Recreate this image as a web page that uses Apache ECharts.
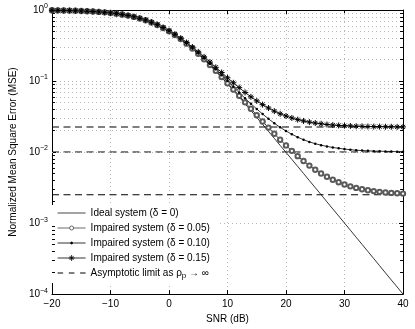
<!DOCTYPE html>
<html>
<head>
<meta charset="utf-8">
<script src="https://cdn.jsdelivr.net/npm/echarts@6/dist/echarts.min.js"></script>
<style>
  html, body { margin: 0; padding: 0; background: #fff; }
  #chart { width: 415px; height: 329px; }
</style>
</head>
<body>
<div id="chart"></div>
<script>
// SNR in dB, one point per dB
const snrDb = [-20, -19, -18, -17, -16, -15, -14, -13, -12, -11,
  -10, -9, -8, -7, -6, -5, -4, -3, -2, -1,
  0, 1, 2, 3, 4, 5, 6, 7, 8, 9,
  10, 11, 12, 13, 14, 15, 16, 17, 18, 19,
  20, 21, 22, 23, 24, 25, 26, 27, 28, 29,
  30, 31, 32, 33, 34, 35, 36, 37, 38, 39, 40]

const mseIdeal = [0.990, 0.988, 0.984, 0.980, 0.975, 0.969, 0.962, 0.952, 0.941, 0.926,
  0.909, 0.888, 0.863, 0.834, 0.799, 0.760, 0.715, 0.666, 0.613, 0.557,
  0.500, 0.443, 0.387, 0.334, 0.285, 0.240, 0.201, 0.166, 0.137, 0.112,
  0.0909, 0.0736, 0.0594, 0.0477, 0.0383, 0.0307, 0.0245, 0.0196, 0.0156, 0.0124,
  0.00990, 0.00788, 0.00627, 0.00499, 0.00396, 0.00315, 0.00251, 0.00199, 0.00158, 0.00126,
  0.000999, 0.000794, 0.000631, 0.000501, 0.000398, 0.000316, 0.000251, 0.000199, 0.000158, 0.000126,
  0.000100]

const mseDelta05 = [0.990, 0.988, 0.984, 0.980, 0.975, 0.969, 0.962, 0.952, 0.941, 0.926,
  0.909, 0.888, 0.863, 0.834, 0.800, 0.761, 0.716, 0.667, 0.614, 0.558,
  0.501, 0.444, 0.389, 0.336, 0.287, 0.242, 0.203, 0.168, 0.139, 0.114,
  0.0932, 0.0759, 0.0618, 0.0501, 0.0407, 0.0331, 0.0269, 0.0221, 0.0181, 0.0149,
  0.0124, 0.0104, 0.00875, 0.00748, 0.00645, 0.00564, 0.00500, 0.00449, 0.00408, 0.00376,
  0.00350, 0.00329, 0.00313, 0.00300, 0.00290, 0.00282, 0.00275, 0.00270, 0.00266, 0.00263,
  0.00260]

const mseDelta10 = [0.990, 0.988, 0.984, 0.980, 0.975, 0.969, 0.962, 0.952, 0.942, 0.927,
  0.910, 0.889, 0.864, 0.836, 0.801, 0.762, 0.718, 0.669, 0.617, 0.561,
  0.505, 0.449, 0.393, 0.341, 0.292, 0.248, 0.209, 0.174, 0.146, 0.121,
  0.100, 0.0829, 0.0688, 0.0572, 0.0479, 0.0404, 0.0343, 0.0294, 0.0254, 0.0223,
  0.0198, 0.0178, 0.0162, 0.0149, 0.0139, 0.0131, 0.0125, 0.0120, 0.0116, 0.0113,
  0.0110, 0.0108, 0.0106, 0.0105, 0.0104, 0.0103, 0.0103, 0.0102, 0.0102, 0.0101,
  0.0101]

const mseDelta15 = [0.990, 0.988, 0.984, 0.980, 0.976, 0.970, 0.963, 0.953, 0.942, 0.928,
  0.911, 0.891, 0.866, 0.838, 0.804, 0.765, 0.721, 0.674, 0.622, 0.567,
  0.511, 0.456, 0.401, 0.349, 0.301, 0.257, 0.219, 0.185, 0.156, 0.132,
  0.111, 0.0944, 0.0806, 0.0691, 0.0599, 0.0525, 0.0465, 0.0417, 0.0377, 0.0346,
  0.0322, 0.0302, 0.0286, 0.0274, 0.0264, 0.0256, 0.0250, 0.0244, 0.0240, 0.0237,
  0.0235, 0.0233, 0.0231, 0.0230, 0.0229, 0.0228, 0.0228, 0.0227, 0.0227, 0.0226,
  0.0226]

// asymptotic floors (delta^2)
const asymptotes = [0.0225, 0.01, 0.0025]

const seriesNames = [
  'Ideal system (δ = 0)',
  'Impaired system (δ = 0.05)',
  'Impaired system (δ = 0.10)',
  'Impaired system (δ = 0.15)',
  'Asymptotic limit as ρp → ∞'
]

// minor log gridlines 2..9 x 10^k
const decades = [1e-4, 1e-3, 1e-2, 1e-1]
const minorMults = [2, 3, 4, 5, 6, 7, 8, 9]

const FONT = '"Liberation Sans", Arial, Helvetica, sans-serif'
const GRID_COLOR = '#b8b8b8'

const pairs = vals => snrDb.map((x, i) => [x, vals[i]])

const minorVals = []
decades.forEach(d => minorMults.forEach(m => minorVals.push(+(d * m).toPrecision(3))))

const minorGrid = minorVals.map(v => ({ yAxis: v }))
const minorTicks = []
minorVals.forEach(v => {
  minorTicks.push([{ coord: [-20, v] }, { coord: [-19.5, v] }])
  minorTicks.push([{ coord: [39.5, v] }, { coord: [40, v] }])
})

const supMinus = s => s.replace('-', '−')

// legend icons, drawn in a 28x8 box (corner points keep the box size)
const BOX = 'M0,0L0,0M28,8L28,8'
const iconIdeal = 'path://' + BOX + 'M0,4L28,4'
const iconCircle = 'path://' + BOX + 'M0,4L12,4M16,4L28,4M16,4A2,2,0,1,1,12,4A2,2,0,1,1,16,4'
const iconDot = 'path://' + BOX + 'M0,4L28,4M15,4A1,1,0,1,1,13,4A1,1,0,1,1,15,4'
const iconStar = 'path://' + BOX + 'M0,4L28,4M14,1L14,7M11,4L17,4M11.9,1.9L16.1,6.1M16.1,1.9L11.9,6.1'
const iconDash = 'path://' + BOX + 'M0,4L5.5,4M11.2,4L16.8,4M22.5,4L28,4'

const chart = echarts.init(document.getElementById('chart'), null, { renderer: 'canvas' })

const curveLine = { color: '#000', width: 0.8 }
const axisBox = { show: true, onZero: false, lineStyle: { color: '#000', width: 1 } }
const tickIn = { show: true, inside: true, length: 4, lineStyle: { color: '#000' } }

const option = {
  animation: false,
  backgroundColor: '#fff',
  textStyle: { fontFamily: FONT },
  grid: { left: 37, right: 12, top: 10, bottom: 30, containLabel: false },
  legend: {
    orient: 'vertical',
    left: 49,
    top: 205,
    padding: [3, 8, 3, 8],
    itemWidth: 28,
    itemHeight: 8,
    itemGap: 5,
    backgroundColor: '#fff',
    symbolKeepAspect: true,
    itemStyle: { color: 'rgba(0,0,0,0)', borderColor: '#000', borderWidth: 0.8 },
    data: [
      { name: seriesNames[0], icon: iconIdeal, itemStyle: { color: 'rgba(0,0,0,0)', borderColor: '#666', borderWidth: 1.2 } },
      { name: seriesNames[1], icon: iconCircle, itemStyle: { color: '#fff', borderColor: '#444', borderWidth: 0.8 } },
      { name: seriesNames[2], icon: iconDot, itemStyle: { color: '#000', borderColor: '#000', borderWidth: 0.8 } },
      { name: seriesNames[3], icon: iconStar },
      { name: seriesNames[4], icon: iconDash, itemStyle: { color: 'rgba(0,0,0,0)', borderColor: '#000', borderWidth: 1.2 } }
    ],
    textStyle: {
      fontFamily: FONT,
      fontSize: 10,
      color: '#000',
      rich: {
        sub: { fontFamily: FONT, fontSize: 8, color: '#000', padding: [6, 0, 0, 0] }
      }
    },
    formatter: name => name === seriesNames[4] ? 'Asymptotic limit as ρ{sub|p} → ∞' : name
  },
  xAxis: [
    {
      type: 'value',
      min: -20,
      max: 40,
      interval: 10,
      name: 'SNR (dB)',
      nameLocation: 'middle',
      nameGap: 16,
      nameTextStyle: { fontFamily: FONT, fontSize: 10, color: '#000' },
      axisLine: axisBox,
      axisTick: tickIn,
      axisLabel: {
        fontFamily: FONT, fontSize: 10, color: '#000', margin: 5,
        formatter: v => String(v).replace('-', '−')
      },
      splitLine: { show: true, lineStyle: { color: GRID_COLOR, type: [1, 3], width: 1 } }
    },
    {
      type: 'value',
      position: 'top',
      min: -20,
      max: 40,
      interval: 10,
      axisLine: axisBox,
      axisTick: tickIn,
      axisLabel: { show: false },
      splitLine: { show: false }
    }
  ],
  yAxis: [
    {
      type: 'log',
      logBase: 10,
      min: 1e-4,
      max: 1,
      name: 'Normalized Mean Square Error (MSE)',
      nameLocation: 'middle',
      nameGap: 24,
      nameTextStyle: { fontFamily: FONT, fontSize: 10, color: '#000' },
      axisLine: axisBox,
      axisTick: tickIn,
      axisLabel: {
        fontFamily: FONT, fontSize: 10, color: '#000', margin: 4,
        formatter: v => '10{sup|' + supMinus(String(Math.round(Math.log10(v)))) + '}',
        rich: {
          sup: { fontFamily: FONT, fontSize: 7, color: '#000', padding: [0, 0, 7, 0] }
        }
      },
      splitLine: { show: true, lineStyle: { color: GRID_COLOR, type: [1, 3], width: 1 } }
    },
    {
      type: 'log',
      logBase: 10,
      min: 1e-4,
      max: 1,
      position: 'right',
      axisLine: axisBox,
      axisTick: tickIn,
      axisLabel: { show: false },
      splitLine: { show: false }
    }
  ],
  series: [
    {
      name: 'minor-grid',
      type: 'line',
      data: [],
      silent: true,
      markLine: {
        silent: true,
        symbol: ['none', 'none'],
        label: { show: false },
        lineStyle: { color: GRID_COLOR, type: [1, 3], width: 1 },
        data: minorGrid
      }
    },
    {
      name: 'minor-ticks',
      type: 'line',
      data: [],
      silent: true,
      markLine: {
        silent: true,
        symbol: ['none', 'none'],
        label: { show: false },
        lineStyle: { color: '#000', type: 'solid', width: 1 },
        data: minorTicks
      }
    },
    {
      name: seriesNames[0],
      type: 'line',
      data: pairs(mseIdeal),
      symbol: 'none',
      itemStyle: { color: '#000' },
      lineStyle: curveLine,
      z: 5
    },
    {
      name: seriesNames[1],
      type: 'line',
      data: pairs(mseDelta05),
      symbol: 'emptyCircle',
      symbolSize: 4.4,
      itemStyle: { color: '#5a5a5a', borderColor: '#5a5a5a', borderWidth: 0.6 },
      lineStyle: curveLine,
      z: 5
    },
    {
      name: seriesNames[2],
      type: 'line',
      data: pairs(mseDelta10),
      symbol: 'circle',
      symbolSize: 2.5,
      itemStyle: { color: '#000', borderWidth: 0 },
      lineStyle: curveLine,
      z: 5
    },
    {
      name: seriesNames[3],
      type: 'line',
      data: pairs(mseDelta15),
      symbol: 'path://M5,0L5,10M0,5L10,5M1.6,1.6L8.4,8.4M8.4,1.6L1.6,8.4',
      symbolSize: 6,
      itemStyle: { color: '#000', borderColor: '#000', borderWidth: 1 },
      lineStyle: curveLine,
      z: 5
    }
  ].concat(asymptotes.map(level => ({
    name: seriesNames[4],
    type: 'line',
    data: [[-20, level], [40, level]],
    symbol: 'none',
    itemStyle: { color: '#000' },
    lineStyle: { color: '#000', width: 1.1, type: [7, 4.5] },
    z: 4
  })))
}

chart.setOption(option)
</script>
</body>
</html>
